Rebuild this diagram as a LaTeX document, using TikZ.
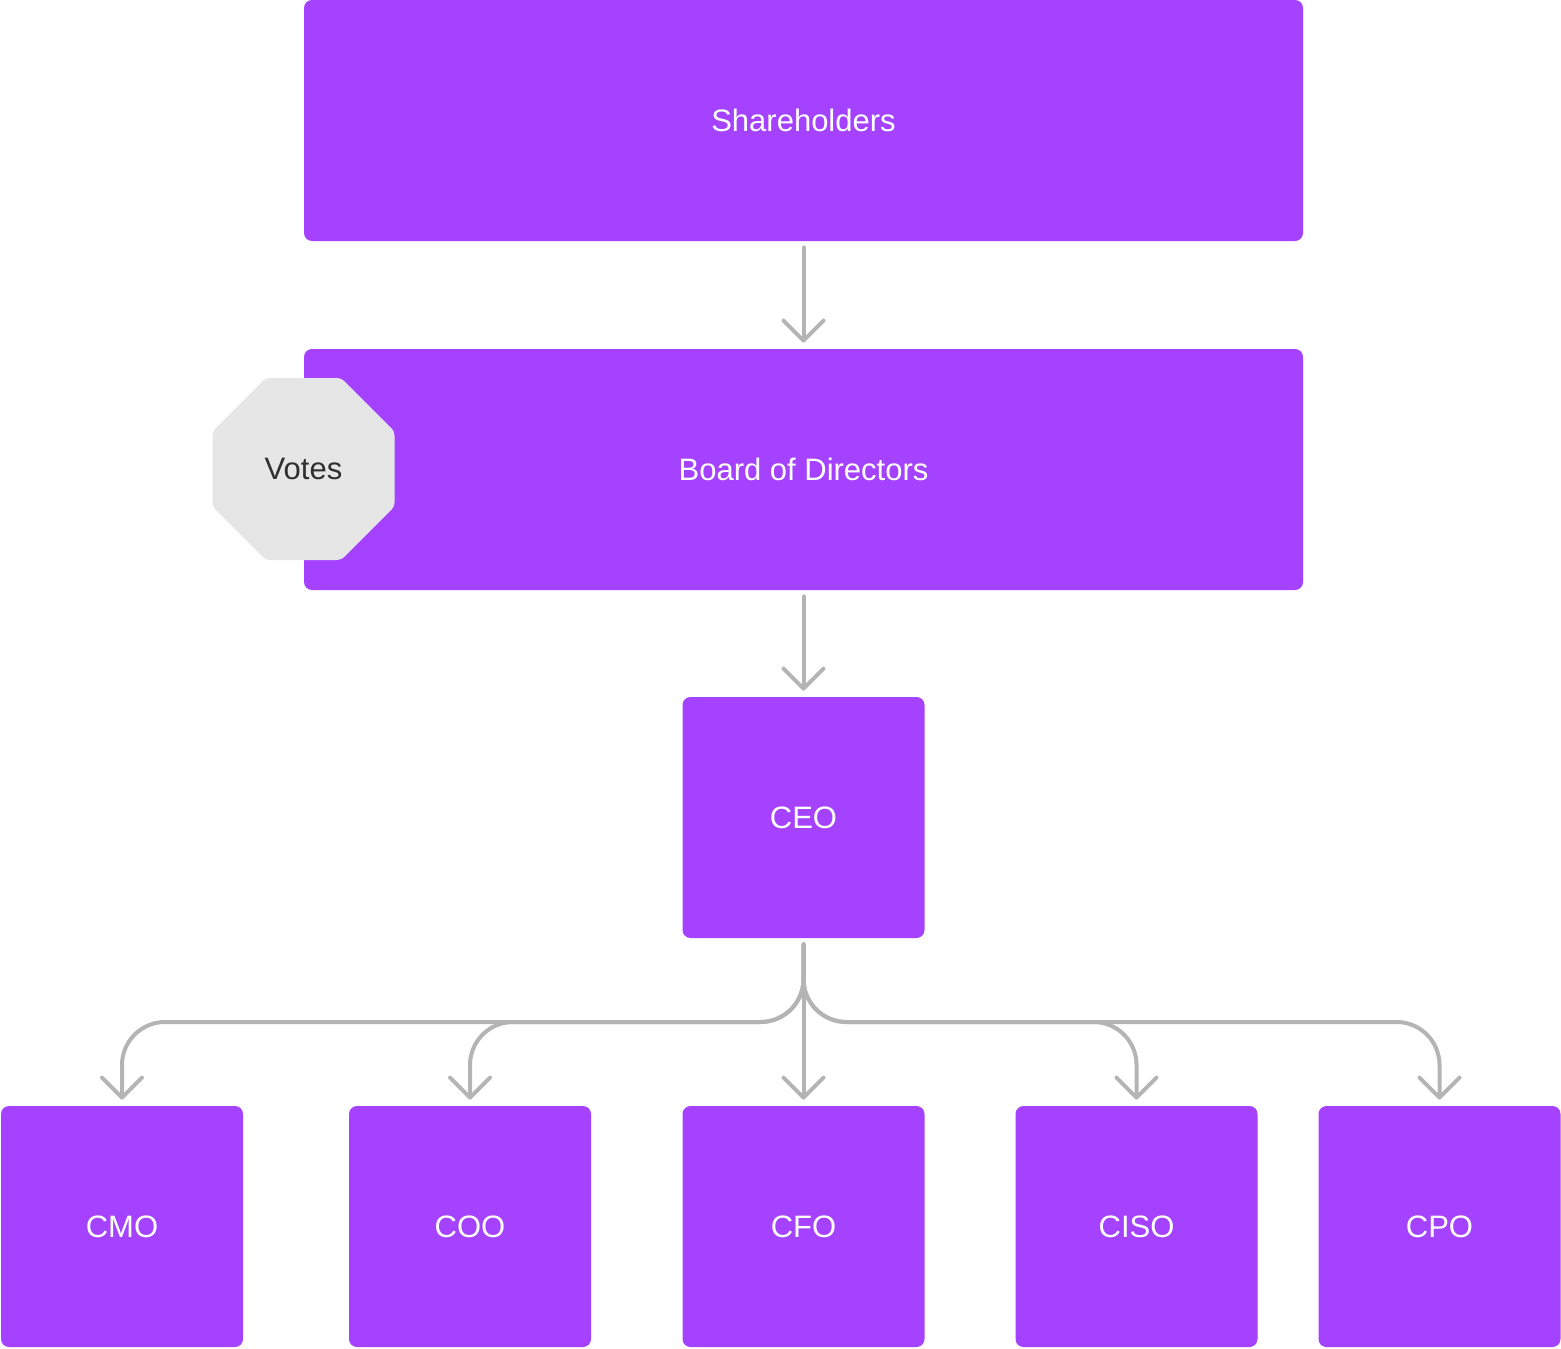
\documentclass[tikz,border=0pt]{standalone}
\usepackage{fontspec}
\setmainfont{Liberation Sans}
\usetikzlibrary{arrows.meta,shapes.geometric}
\definecolor{boxpurple}{HTML}{A442FF}
\definecolor{linegray}{HTML}{B4B4B4}
\definecolor{votefill}{HTML}{E6E6E6}
\definecolor{votetext}{HTML}{303030}

\begin{document}
\begin{tikzpicture}[x=0.5pt,y=-0.5pt,
  orgbox/.style={fill=boxpurple, rounded corners=4pt, text=white,
    font=\fontsize{15.5}{18}\selectfont, inner sep=0pt},
  widebox/.style={orgbox, minimum width=499.5pt, minimum height=120.5pt},
  rolebox/.style={orgbox, minimum width=121pt, minimum height=120.5pt},
  votebox/.style={regular polygon, regular polygon sides=8, minimum size=98.5pt,
    inner sep=0pt, fill=votefill, rounded corners=2pt, text=votetext,
    font=\fontsize{15.5}{18}\selectfont},
  link/.style={draw=linegray, line width=2pt, line cap=round,
    shorten <=3pt, shorten >=3pt,
    -{Straight Barb[length=10pt,width=20pt,round]}},
  branch/.style={link, rounded corners=21.5pt}]

  \useasboundingbox (0,0) rectangle (1561,1348);

  % governance levels
  \node[widebox] (share) at (803.5,120.5) {Shareholders};
  \node[widebox] (board) at (803.5,469.5) {Board of Directors};
  \node[votebox] (votes) at (303.5,469) {Votes};
  \node[rolebox] (ceo) at (803.5,817.5) {CEO};

  % executive row
  \node[rolebox] (cmo)  at (122,1226.5)    {CMO};
  \node[rolebox] (coo)  at (470,1226.5)    {COO};
  \node[rolebox] (cfo)  at (803.5,1226.5)  {CFO};
  \node[rolebox] (ciso) at (1136.5,1226.5) {CISO};
  \node[rolebox] (cpo)  at (1439.5,1226.5) {CPO};

  \coordinate (fork) at (803.5,1022);

  % reporting lines
  \draw[link] (share.south) -- (board.north);
  \draw[link] (board.south) -- (ceo.north);
  \draw[link] (ceo.south) -- (cfo.north);
  \draw[branch] (ceo.south) -- (fork) -| (cmo.north);
  \draw[branch] (ceo.south) -- (fork) -| (coo.north);
  \draw[branch] (ceo.south) -- (fork) -| (ciso.north);
  \draw[branch] (ceo.south) -- (fork) -| (cpo.north);
\end{tikzpicture}
\end{document}
